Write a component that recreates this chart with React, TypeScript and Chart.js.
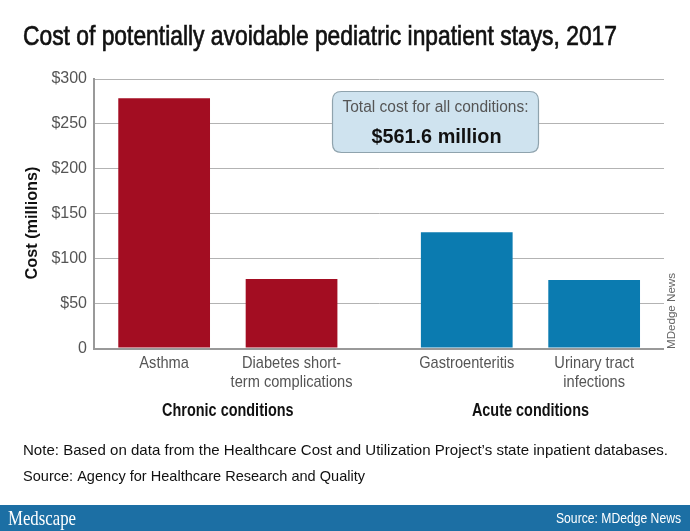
import React, { useEffect, useRef } from "react";
import { Chart, registerables } from "chart.js";

Chart.register(...registerables);

const TITLE = "Cost of potentially avoidable pediatric inpatient stays, 2017";
const Y_TITLE = "Cost (millions)";
const GROUPS = ["Chronic conditions", "Acute conditions"];
// first and second condition in each group
const FIRST_LABELS = [["Asthma"], ["Gastroenteritis"]];
const SECOND_LABELS = [["Diabetes short-", "term complications"], ["Urinary tract", "infections"]];
const FIRST_VALUES = [278.5, 129.4];
const SECOND_VALUES = [77.5, 76.2];
const GROUP_COLORS = ["#a30d22", "#0b7bb0"];
const Y_TICKS_STEP = 50;
const Y_MAX = 300;
const BOX_LINE1 = "Total cost for all conditions:";
const BOX_LINE2 = "$561.6 million";
const NOTE = "Note: Based on data from the Healthcare Cost and Utilization Project\u2019s state inpatient databases.";
const SOURCE = "Source: Agency for Healthcare Research and Quality";
const BRAND = "Medscape";
const FOOTER_SOURCE = "Source: MDedge News";
const SIDE_CREDIT = "MDedge News";

const FONT = "'Liberation Sans', Arial, sans-serif";

function roundRect(ctx: CanvasRenderingContext2D, x: number, y: number, w: number, h: number, r: number) {
  ctx.beginPath();
  ctx.moveTo(x + r, y);
  ctx.lineTo(x + w - r, y);
  ctx.quadraticCurveTo(x + w, y, x + w, y + r);
  ctx.lineTo(x + w, y + h - r);
  ctx.quadraticCurveTo(x + w, y + h, x + w - r, y + h);
  ctx.lineTo(x + r, y + h);
  ctx.quadraticCurveTo(x, y + h, x, y + h - r);
  ctx.lineTo(x, y + r);
  ctx.quadraticCurveTo(x, y, x + r, y);
  ctx.closePath();
}

// draw text horizontally condensed: either to a target width, or by a fixed factor
function condText(
  ctx: CanvasRenderingContext2D,
  text: string,
  x: number,
  y: number,
  opts: { width?: number; factor?: number; stroke?: number }
) {
  const w = ctx.measureText(text).width;
  const sx = opts.width ? opts.width / w : opts.factor ?? 1;
  ctx.save();
  ctx.translate(x, y);
  ctx.scale(sx, 1);
  ctx.fillText(text, 0, 0);
  if (opts.stroke) {
    ctx.strokeStyle = ctx.fillStyle as string;
    ctx.lineWidth = opts.stroke;
    ctx.strokeText(text, 0, 0);
  }
  ctx.restore();
}

const textPlugin = {
  id: "texts",
  afterDraw(chart: any) {
    const ctx: CanvasRenderingContext2D = chart.ctx;
    ctx.save();
    // title
    ctx.fillStyle = "#111";
    ctx.font = `28px ${FONT}`;
    ctx.textAlign = "left";
    ctx.textBaseline = "alphabetic";
    condText(ctx, TITLE, 23, 45, { width: 594, stroke: 0.7 });

    // y title
    ctx.save();
    ctx.translate(32, 223);
    ctx.rotate(-Math.PI / 2);
    ctx.font = `bold 17px ${FONT}`;
    ctx.textAlign = "center";
    ctx.textBaseline = "middle";
    condText(ctx, Y_TITLE, 0, 0, { width: 113 });
    ctx.restore();

    // bar labels
    const m0 = chart.getDatasetMeta(0);
    const m1 = chart.getDatasetMeta(1);
    ctx.textAlign = "center";
    ctx.textBaseline = "middle";
    GROUPS.forEach((g, i) => {
      const x0 = m0.data[i].x;
      const x1 = m1.data[i].x;
      ctx.font = `17px ${FONT}`;
      ctx.fillStyle = "#555";
      FIRST_LABELS[i].forEach((t, k) => condText(ctx, t, x0, 363 + k * 19, { factor: 0.86 }));
      SECOND_LABELS[i].forEach((t, k) => condText(ctx, t, x1, 363 + k * 19, { factor: 0.86 }));
      ctx.font = `bold 19px ${FONT}`;
      ctx.fillStyle = "#111";
      condText(ctx, g, (x0 + x1) / 2, 411, { factor: 0.76 });
    });

    // annotation box
    roundRect(ctx, 332.5, 91.5, 206, 61, 9);
    ctx.fillStyle = "#cfe3ef";
    ctx.fill();
    ctx.strokeStyle = "#8fa3ad";
    ctx.lineWidth = 1.2;
    ctx.stroke();
    ctx.fillStyle = "#555";
    ctx.font = `16px ${FONT}`;
    condText(ctx, BOX_LINE1, 435.5, 108, { width: 186 });
    ctx.fillStyle = "#111";
    ctx.font = `bold 21px ${FONT}`;
    condText(ctx, BOX_LINE2, 436.5, 137, { width: 130 });

    // side credit
    ctx.save();
    ctx.translate(672, 311);
    ctx.rotate(-Math.PI / 2);
    ctx.fillStyle = "#666";
    ctx.font = `11px ${FONT}`;
    condText(ctx, SIDE_CREDIT, 0, 0, { width: 76 });
    ctx.restore();

    // notes
    ctx.textAlign = "left";
    ctx.fillStyle = "#111";
    ctx.font = `15px ${FONT}`;
    condText(ctx, NOTE, 23, 451, { width: 645 });
    condText(ctx, SOURCE, 23, 477, { width: 342 });

    // footer band
    ctx.fillStyle = "#1c6fa4";
    ctx.fillRect(0, 505, chart.width, chart.height - 505);
    ctx.fillStyle = "#fff";
    ctx.font = `21px 'Liberation Serif', serif`;
    condText(ctx, BRAND, 8, 519, { width: 68 });
    ctx.textAlign = "right";
    ctx.font = `14px ${FONT}`;
    condText(ctx, FOOTER_SOURCE, 681, 519, { width: 125 });
    ctx.restore();
  },
};

export default function App() {
  const ref = useRef<HTMLCanvasElement>(null);
  useEffect(() => {
    if (!ref.current) return;
    const chart = new Chart(ref.current, {
      type: "bar",
      data: {
        datasets: [
          {
            data: FIRST_VALUES.map((v, i) => ({ x: i, y: v })),
            backgroundColor: GROUP_COLORS,
            borderWidth: 0,
          },
          {
            data: SECOND_VALUES.map((v, i) => ({ x: i, y: v })),
            backgroundColor: GROUP_COLORS,
            borderWidth: 0,
          },
        ],
      },
      options: {
        animation: false,
        responsive: false,
        categoryPercentage: 0.842,
        barPercentage: 0.72,
        layout: { padding: { left: 0, top: 79, right: 26, bottom: 182.5 } },
        plugins: { legend: { display: false }, tooltip: { enabled: false }, title: { display: false } },
        scales: {
          x: {
            type: "linear",
            display: false,
            offset: false,
            min: -0.4423,
            max: 1.4413,
            afterBuildTicks: (scale: any) => {
              scale.ticks = GROUPS.map((_, i) => ({ value: i }));
            },
          },
          y: {
            min: 0,
            max: Y_MAX,
            afterFit: (scale: any) => {
              scale.width = 94;
            },
            ticks: {
              stepSize: Y_TICKS_STEP,
              color: "#555",
              padding: 7,
              font: { family: FONT, size: 16 },
              callback: (v: any) => (v === 0 ? "0" : "$" + v),
            },
            grid: {
              drawTicks: false,
              color: (c: any) => (c.tick && c.tick.value === 0 ? "#999" : "#b3b3b3"),
              lineWidth: (c: any) => (c.tick && c.tick.value === 0 ? 2 : 1),
            },
            border: { display: true, color: "#999", width: 2 },
          },
        },
      },
      plugins: [textPlugin],
    });
    return () => chart.destroy();
  }, []);
  return (
    <div style={{ position: "absolute", left: 0, top: 0, width: 690, height: 531, background: "#fff" }}>
      <canvas ref={ref} width={690} height={531} style={{ width: 690, height: 531 }} />
    </div>
  );
}
